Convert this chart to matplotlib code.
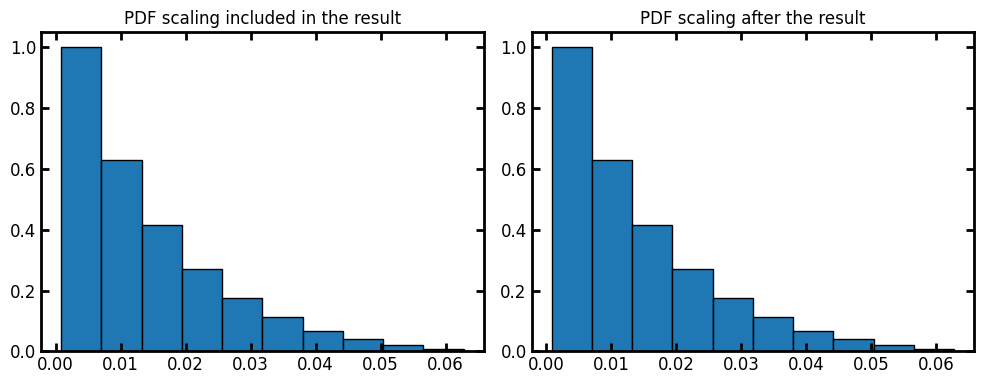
import matplotlib.pyplot as plt

# Bin edges and normalised heights
binEdges = [0.00085, 0.00704, 0.01323, 0.01942, 0.02561, 0.03180,
            0.03799, 0.04418, 0.05037, 0.05656, 0.06275]
heights = [1.0, 0.63, 0.415, 0.27, 0.174, 0.1145, 0.066, 0.042, 0.022, 0.0066]
titles = ["PDF scaling included in the result", "PDF scaling after the result"]

fig, axes = plt.subplots(1, 2, figsize=(9.84, 3.84), dpi=100)

for ax, title in zip(axes, titles):
    lefts = binEdges[:-1]
    widths = [b - a for a, b in zip(binEdges[:-1], binEdges[1:])]
    ax.bar(lefts, heights, width=widths, align="edge",
           color="#1f77b4", edgecolor="black", linewidth=1)
    ax.set_title(title, fontsize=12)

    # Thick frame with inward ticks on every side
    for spine in ax.spines.values():
        spine.set_linewidth(2)
    ax.tick_params(direction="in", which="both", top=True, right=True,
                   width=2, length=6, labelsize=12)
    ax.set_xticks([0.00, 0.01, 0.02, 0.03, 0.04, 0.05, 0.06])
    ax.set_yticks([0.0, 0.2, 0.4, 0.6, 0.8, 1.0])

fig.tight_layout(pad=0.7, w_pad=1.2)
fig.savefig("out.png")
